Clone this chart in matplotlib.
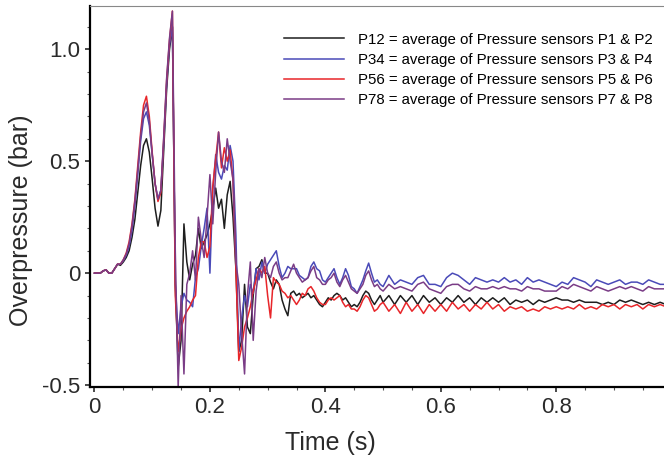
#!/usr/bin/env python3
"""
Overpressure time histories (averaged pressure sensor pairs).
"""

import numpy as np
import matplotlib
matplotlib.use('Agg')
import matplotlib.pyplot as plt
from matplotlib.ticker import MultipleLocator

plt.rcParams['font.family'] = ['Liberation Sans', 'DejaVu Sans']

# time grid: 0 - 0.495 s every 5 ms, then 0.50 - 0.99 s every 10 ms
time_fine = np.round(np.arange(0.0, 0.4999, 0.005), 3)
time_coarse = np.round(np.arange(0.50, 0.9999, 0.01), 3)
time_s = np.concatenate([time_fine, time_coarse])

# P12 (black)
p12 = [
    0.00, 0.00, 0.00, 0.01, 0.015, 0.00, 0.00, 0.02, 0.04, 0.035,
    0.05, 0.07, 0.10, 0.16, 0.24, 0.36, 0.48, 0.57, 0.60, 0.54,
    0.42, 0.29, 0.21, 0.28, 0.55, 0.82, 1.00, 1.10, -0.05, -0.42,
    -0.30, 0.22, 0.05, -0.03, 0.04, 0.08, 0.20, 0.11, 0.14, 0.17,
    0.22, 0.29, 0.38, 0.29, 0.33, 0.20, 0.35, 0.41, 0.25, 0.02,
    -0.35, -0.30, -0.05, -0.24, -0.27, -0.10, 0.02, 0.03, 0.06, 0.00,
    0.00, -0.04, -0.07, -0.03, -0.05, -0.12, -0.16, -0.19, -0.09, -0.08,
    -0.10, -0.09, -0.11, -0.10, -0.09, -0.11, -0.10, -0.12, -0.14, -0.15,
    -0.13, -0.11, -0.12, -0.10, -0.09, -0.10, -0.12, -0.11, -0.13, -0.15,
    -0.14, -0.15, -0.13, -0.10, -0.08, -0.09, -0.12, -0.14, -0.12, -0.10,
    # 0.50 - 0.99
    -0.13, -0.10, -0.14, -0.10, -0.13, -0.10, -0.14, -0.10, -0.13, -0.11,
    -0.14, -0.11, -0.13, -0.10, -0.13, -0.11, -0.14, -0.11, -0.13, -0.11,
    -0.13, -0.11, -0.14, -0.12, -0.13, -0.12, -0.14, -0.12, -0.13, -0.12,
    -0.11, -0.12, -0.12, -0.13, -0.12, -0.13, -0.13, -0.13, -0.14, -0.13,
    -0.14, -0.12, -0.13, -0.12, -0.13, -0.14, -0.13, -0.14, -0.13, -0.14,
]

# P34 (blue)
p34 = [
    0.00, 0.00, 0.00, 0.01, 0.015, 0.00, 0.00, 0.02, 0.04, 0.04,
    0.055, 0.08, 0.12, 0.19, 0.30, 0.44, 0.59, 0.69, 0.72, 0.66,
    0.53, 0.40, 0.33, 0.37, 0.58, 0.84, 1.02, 1.10, -0.05, -0.27,
    -0.15, -0.09, -0.12, -0.13, -0.15, -0.02, 0.02, 0.12, 0.20, 0.29,
    0.00, 0.37, 0.53, 0.45, 0.42, 0.48, 0.46, 0.57, 0.50, 0.17,
    -0.35, -0.20, -0.10, -0.15, -0.05, -0.09, 0.02, -0.03, 0.05, 0.00,
    0.04, 0.06, 0.08, 0.10, 0.03, -0.02, 0.00, 0.03, 0.02, 0.02,
    0.02, -0.01, -0.02, -0.03, -0.02, 0.03, 0.05, 0.02, 0.01, -0.03,
    -0.04, -0.02, 0.00, 0.02, -0.02, -0.05, -0.02, 0.02, -0.01, -0.06,
    -0.07, -0.09, -0.06, -0.03, 0.01, 0.045, 0.00, -0.04, -0.03, -0.05,
    # 0.50 - 0.99
    -0.06, -0.01, -0.05, -0.03, -0.04, -0.05, -0.02, -0.01, -0.05, -0.05,
    -0.06, -0.02, -0.00, -0.01, -0.03, -0.05, -0.02, -0.03, -0.04, -0.03,
    -0.04, -0.02, -0.04, -0.03, -0.05, -0.02, -0.04, -0.03, -0.04, -0.05,
    -0.06, -0.04, -0.05, -0.02, -0.03, -0.04, -0.06, -0.03, -0.04, -0.05,
    -0.04, -0.03, -0.05, -0.04, -0.04, -0.05, -0.03, -0.04, -0.05, -0.05,
]

# P56 (red)
p56 = [
    0.00, 0.00, 0.00, 0.01, 0.015, 0.00, 0.00, 0.02, 0.04, 0.04,
    0.06, 0.09, 0.14, 0.22, 0.33, 0.48, 0.63, 0.75, 0.79, 0.70,
    0.54, 0.40, 0.32, 0.36, 0.60, 0.86, 1.04, 1.17, -0.10, -0.35,
    -0.25, -0.20, -0.17, -0.15, -0.12, -0.10, 0.07, 0.14, 0.14, 0.07,
    0.12, 0.39, 0.51, 0.63, 0.47, 0.56, 0.50, 0.55, 0.41, 0.02,
    -0.39, -0.33, -0.24, -0.20, -0.15, -0.08, -0.03, 0.02, 0.00, 0.03,
    -0.10, -0.20, -0.02, -0.04, -0.05, -0.08, -0.09, -0.11, -0.10, -0.12,
    -0.14, -0.12, -0.09, -0.10, -0.07, -0.06, -0.08, -0.11, -0.13, -0.14,
    -0.14, -0.12, -0.11, -0.12, -0.11, -0.10, -0.13, -0.15, -0.14, -0.16,
    -0.16, -0.17, -0.15, -0.12, -0.10, -0.11, -0.14, -0.17, -0.16, -0.14,
    # 0.50 - 0.99
    -0.13, -0.17, -0.14, -0.18, -0.13, -0.17, -0.14, -0.18, -0.14, -0.17,
    -0.14, -0.17, -0.13, -0.16, -0.14, -0.17, -0.14, -0.16, -0.13, -0.16,
    -0.14, -0.17, -0.15, -0.16, -0.15, -0.17, -0.16, -0.17, -0.15, -0.16,
    -0.15, -0.16, -0.15, -0.16, -0.14, -0.16, -0.15, -0.16, -0.14, -0.15,
    -0.14, -0.16, -0.14, -0.15, -0.14, -0.16, -0.14, -0.15, -0.14, -0.15,
]

# P78 (purple)
p78 = [
    0.00, 0.00, 0.00, 0.01, 0.015, 0.00, 0.00, 0.02, 0.04, 0.04,
    0.06, 0.085, 0.13, 0.21, 0.32, 0.46, 0.61, 0.72, 0.76, 0.68,
    0.53, 0.40, 0.33, 0.37, 0.61, 0.87, 1.05, 1.17, 0.10, -0.51,
    -0.10, -0.45, -0.05, 0.00, 0.10, -0.03, 0.25, 0.15, 0.07, 0.25,
    0.44, 0.22, 0.45, 0.63, 0.50, 0.45, 0.60, 0.50, 0.42, 0.05,
    -0.05, -0.27, -0.45, -0.10, 0.05, -0.30, -0.08, 0.02, -0.02, 0.07,
    0.00, -0.02, 0.03, 0.05, 0.00, -0.03, -0.02, -0.02, 0.01, 0.04,
    0.00, -0.02, -0.04, -0.03, -0.02, 0.01, 0.03, -0.02, -0.03, -0.05,
    -0.05, -0.03, -0.02, 0.00, -0.04, -0.06, -0.03, -0.01, -0.04, -0.07,
    -0.08, -0.09, -0.07, -0.05, -0.01, 0.01, -0.03, -0.06, -0.05, -0.07,
    # 0.50 - 0.99
    -0.08, -0.05, -0.07, -0.06, -0.07, -0.08, -0.05, -0.04, -0.07, -0.08,
    -0.09, -0.06, -0.05, -0.05, -0.07, -0.08, -0.06, -0.07, -0.07, -0.06,
    -0.07, -0.06, -0.07, -0.07, -0.08, -0.06, -0.07, -0.07, -0.08, -0.08,
    -0.08, -0.06, -0.07, -0.05, -0.06, -0.07, -0.08, -0.06, -0.07, -0.08,
    -0.07, -0.06, -0.07, -0.06, -0.07, -0.08, -0.06, -0.07, -0.07, -0.07,
]

series_labels = [
    'P12 = average of Pressure sensors P1 & P2',
    'P34 = average of Pressure sensors P3 & P4',
    'P56 = average of Pressure sensors P5 & P6',
    'P78 = average of Pressure sensors P7 & P8',
]
series_colors = ['#1e1e1e', '#4a4ab8', '#e8262a', '#7a3c86']

y_ticks = [-0.5, 0.0, 0.5, 1.0]
y_tick_labels = ['-0.5', '0', '0.5', '1.0']
x_ticks = [0.0, 0.2, 0.4, 0.6, 0.8]
x_tick_labels = ['0', '0.2', '0.4', '0.6', '0.8']

fig = plt.figure(figsize=(6.64, 4.59), dpi=100)
# right edge of the frame falls just outside the image, as in the source
ax = fig.add_axes([0.1355, 0.157, 0.874, 0.830])

for values, color, label in zip([p12, p34, p56, p78], series_colors,
                                series_labels):
    ax.plot(time_s, values, color=color, linewidth=1.1, label=label)

ax.set_xlim(-0.0078, 0.9976)
ax.set_ylim(-0.508, 1.193)

ax.set_xticks(x_ticks)
ax.set_xticklabels(x_tick_labels)
ax.set_yticks(y_ticks)
ax.set_yticklabels(y_tick_labels)
ax.xaxis.set_minor_locator(MultipleLocator(0.05))
ax.yaxis.set_minor_locator(MultipleLocator(0.1))

ax.tick_params(axis='both', which='major', direction='out', length=3.5,
               width=1.2, labelsize=16, colors='#2a2a2a')
ax.tick_params(axis='both', which='minor', direction='out', length=2.2,
               width=0.8, colors='#555555')

ax.spines['left'].set_linewidth(1.6)
ax.spines['bottom'].set_linewidth(1.6)
ax.spines['top'].set_linewidth(0.8)
ax.spines['top'].set_color('#888888')
ax.spines['right'].set_visible(False)

ax.set_xlabel('Time (s)', fontsize=18, color='#2a2a2a', labelpad=6)
ax.xaxis.set_label_coords(0.415, -0.115)
ax.set_ylabel('Overpressure (bar)', fontsize=18, color='#2a2a2a')
ax.yaxis.set_label_coords(-0.098, 0.438)

leg = ax.legend(loc='upper left', bbox_to_anchor=(0.324, 0.946),
                frameon=False, fontsize=10.8, handlelength=4.0,
                handletextpad=0.95, labelspacing=0.42, borderaxespad=0)

fig.savefig('out.png', dpi=100)
